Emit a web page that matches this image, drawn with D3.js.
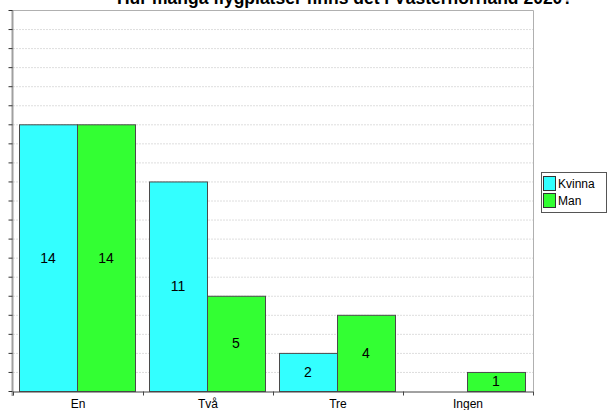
<!DOCTYPE html>
<html>
<head>
<meta charset="utf-8">
<script src="https://cdn.jsdelivr.net/npm/d3@7"></script>
<style>
  body { margin: 0; background: #fff; }
  svg { display: block; font-family: Arial, "Liberation Sans", sans-serif; }
</style>
</head>
<body>
<svg id="chart" width="608" height="410"></svg>
<script>
// Chart data
const TITLE = 'Hur många flygplatser finns det i Västernorrland 2020?';
const categories = ['En', 'Två', 'Tre', 'Ingen'];
const seriesNames = ['Kvinna', 'Man'];
const kvinnaValues = [14, 11, 2, 0];
const manValues = [14, 5, 4, 1];
const yTicks = d3.range(0, 21);

const COLORS = {
  Kvinna: '#33ffff',
  Man: '#33ff33',
  stroke: '#4a4a4a'
};

const svg = d3.select('#chart');
const plot = { left: 13, right: 533, top: 10, bottom: 391 };

const x = d3.scaleBand()
  .domain(categories)
  .range([plot.left, plot.right]);

const xInner = d3.scaleBand()
  .domain(seriesNames)
  .range([6, x.bandwidth() - 8]);

const y = d3.scaleLinear()
  .domain([0, 20])
  .range([plot.bottom, plot.top]);

// Title (mostly cut off at the top, as in the original)
svg.append('text')
  .attr('x', 345)
  .attr('y', 4)
  .attr('text-anchor', 'middle')
  .style('font-weight', 'bold')
  .style('font-size', '17.5px')
  .text(TITLE);

// Grid lines
svg.append('g')
  .selectAll('line')
  .data(yTicks.slice(1, -1))
  .join('line')
  .attr('x1', plot.left)
  .attr('x2', plot.right)
  .attr('y1', d => y(d) + 0.5)
  .attr('y2', d => y(d) + 0.5)
  .attr('stroke', '#dedede')
  .attr('stroke-dasharray', '2,1');

// Plot frame (top and right)
svg.append('path')
  .attr('d', `M${plot.left},${plot.top + 0.5}H${plot.right + 0.5}V${plot.bottom}`)
  .attr('fill', 'none')
  .attr('stroke', '#b0b0b0');

// Bars
const rows = categories.map((c, i) => ({
  category: c,
  values: [
    { series: 'Kvinna', value: kvinnaValues[i] },
    { series: 'Man', value: manValues[i] }
  ]
}));

const groups = svg.append('g')
  .selectAll('g')
  .data(rows)
  .join('g')
  .attr('transform', d => `translate(${x(d.category)},0)`);

const bars = groups.selectAll('g')
  .data(d => d.values.filter(v => v.value > 0))
  .join('g');

bars.append('rect')
  .attr('x', d => xInner(d.series) + 0.5)
  .attr('y', d => y(d.value) + 0.5)
  .attr('width', xInner.bandwidth())
  .attr('height', d => y(0) - y(d.value))
  .attr('fill', d => COLORS[d.series])
  .attr('stroke', COLORS.stroke);

bars.append('text')
  .attr('x', d => xInner(d.series) + xInner.bandwidth() / 2)
  .attr('y', d => (y(0) + y(d.value)) / 2)
  .attr('dy', '0.35em')
  .attr('text-anchor', 'middle')
  .style('font-size', '14px')
  .text(d => d.value);

// Y axis: ticks without labels
const yAxis = svg.append('g')
  .attr('transform', `translate(${plot.left - 0.5},0)`)
  .call(d3.axisLeft(y).tickValues(yTicks).tickSizeInner(4).tickSizeOuter(0).tickFormat(''));
yAxis.select('.domain')
  .attr('stroke', '#a0a0a0')
  .attr('stroke-width', 2)
  .attr('d', `M0,${plot.top}V${plot.bottom + 5}`);
yAxis.selectAll('.tick line').attr('stroke', '#333');

// X axis
const xAxis = svg.append('g')
  .attr('transform', `translate(0,${plot.bottom + 0.5})`)
  .call(d3.axisBottom(x).tickSize(0).tickPadding(8));
xAxis.select('.domain').attr('stroke', '#444');
xAxis.selectAll('text')
  .style('font-size', '12px')
  .style('font-family', 'Arial, "Liberation Sans", sans-serif')
  .attr('fill', '#000');

// Category boundary ticks
xAxis.append('g')
  .selectAll('line')
  .data(categories.concat(['end']))
  .join('line')
  .attr('x1', (d, i) => (i < categories.length ? x(d) : plot.right) + 0.5)
  .attr('x2', (d, i) => (i < categories.length ? x(d) : plot.right) + 0.5)
  .attr('y1', 0)
  .attr('y2', 4)
  .attr('stroke', '#444');

// Legend
const legend = svg.append('g').attr('transform', 'translate(541,172)');
legend.append('rect')
  .attr('x', 0.5)
  .attr('y', 0.5)
  .attr('width', 65)
  .attr('height', 40)
  .attr('fill', '#fff')
  .attr('stroke', '#555');

const items = legend.selectAll('g.item')
  .data(seriesNames)
  .join('g')
  .attr('class', 'item')
  .attr('transform', (d, i) => `translate(2,${4 + i * 17})`);

items.append('rect')
  .attr('x', 0.5)
  .attr('y', 0.5)
  .attr('width', 12)
  .attr('height', 14)
  .attr('fill', d => COLORS[d])
  .attr('stroke', '#333');

items.append('text')
  .attr('x', 15)
  .attr('y', 12)
  .style('font-size', '12px')
  .text(d => d);
</script>
</body>
</html>
